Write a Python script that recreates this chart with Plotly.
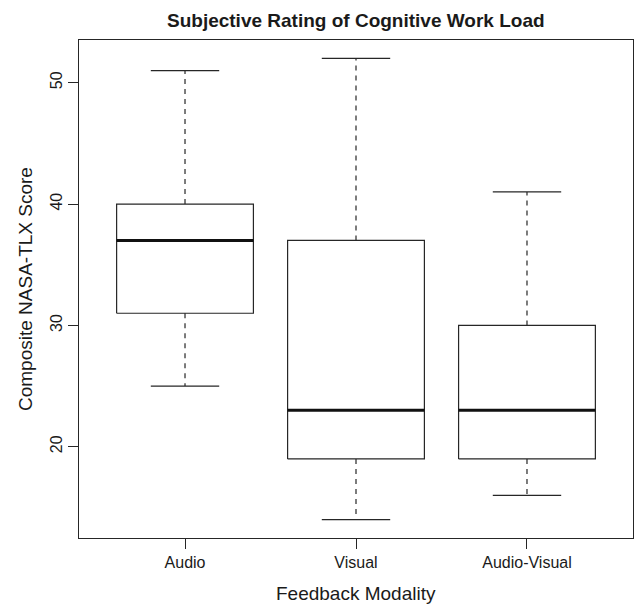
import plotly.graph_objects as go

categories = ["Audio", "Visual", "Audio-Visual"]
lower_whisker = [25, 14, 16]
q1 = [31, 19, 19]
median = [37, 23, 23]
q3 = [40, 37, 30]
upper_whisker = [51, 52, 41]
y_ticks = [20, 30, 40, 50]

LINE = "#262626"
FONT = "Liberation Sans, Arial, Helvetica, sans-serif"
box_half = 0.4
cap_half = 0.2

fig = go.Figure()
for i, cat in enumerate(categories):
    x = i + 1
    # box rectangle
    fig.add_trace(go.Scatter(
        x=[x - box_half, x + box_half, x + box_half, x - box_half, x - box_half],
        y=[q1[i], q1[i], q3[i], q3[i], q1[i]],
        mode="lines", line=dict(color=LINE, width=1.2), fill="toself",
        fillcolor="white", hoverinfo="skip", showlegend=False))
    # median
    fig.add_trace(go.Scatter(
        x=[x - box_half, x + box_half], y=[median[i], median[i]],
        mode="lines", line=dict(color="#111111", width=3), showlegend=False))
    # whiskers (dashed)
    fig.add_trace(go.Scatter(
        x=[x, x, None, x, x],
        y=[q3[i], upper_whisker[i], None, q1[i], lower_whisker[i]],
        mode="lines", line=dict(color=LINE, width=1.2, dash="5px,5px"),
        showlegend=False))
    # caps
    fig.add_trace(go.Scatter(
        x=[x - cap_half, x + cap_half, None, x - cap_half, x + cap_half],
        y=[upper_whisker[i], upper_whisker[i], None, lower_whisker[i], lower_whisker[i]],
        mode="lines", line=dict(color=LINE, width=1.2), showlegend=False))

ymin = min(lower_whisker)
ymax = max(upper_whisker)
pad = 0.04 * (ymax - ymin)
n = len(categories)
xpad = 0.04 * n

fig.update_layout(
    width=634, height=605,
    margin=dict(l=79, r=1, t=40, b=67),
    paper_bgcolor="white", plot_bgcolor="white",
    font=dict(family=FONT, color="#1a1a1a", size=16),
    showlegend=False,
    xaxis=dict(
        range=[0.5 - xpad, n + 0.5 + xpad], tickmode="array",
        tickvals=list(range(1, n + 1)), ticktext=categories,
        ticks="outside", ticklen=10, tickwidth=1.2, tickcolor=LINE,
        showline=True, linecolor=LINE, linewidth=1.2, mirror=True,
        showgrid=False, zeroline=False, fixedrange=True,
        tickfont=dict(size=16)),
    yaxis=dict(
        range=[ymin - pad, ymax + pad], tickmode="array", tickvals=y_ticks,
        ticktext=[str(v) for v in y_ticks], tickangle=-90,
        ticks="outside", ticklen=10, tickwidth=1.2, tickcolor=LINE,
        showline=True, linecolor=LINE, linewidth=1.2, mirror=True,
        showgrid=False, zeroline=False, fixedrange=True,
        tickfont=dict(size=16)),
    annotations=[
        dict(text="<b>Subjective Rating of Cognitive Work Load</b>",
             xref="paper", yref="paper", x=0.5, y=1, yshift=20,
             xanchor="center", yanchor="middle", showarrow=False,
             font=dict(size=19, family=FONT, color="#1a1a1a")),
        dict(text="Feedback Modality", xref="paper", yref="paper",
             x=0.5, y=0, yshift=-55, xanchor="center", yanchor="middle",
             showarrow=False, font=dict(size=19, family=FONT, color="#1a1a1a")),
        dict(text="Composite NASA-TLX Score", xref="paper", yref="paper",
             x=0, y=0.5, xshift=-54, xanchor="center", yanchor="middle",
             textangle=-90, showarrow=False,
             font=dict(size=19, family=FONT, color="#1a1a1a")),
    ],
)

fig.write_html("out.html")
